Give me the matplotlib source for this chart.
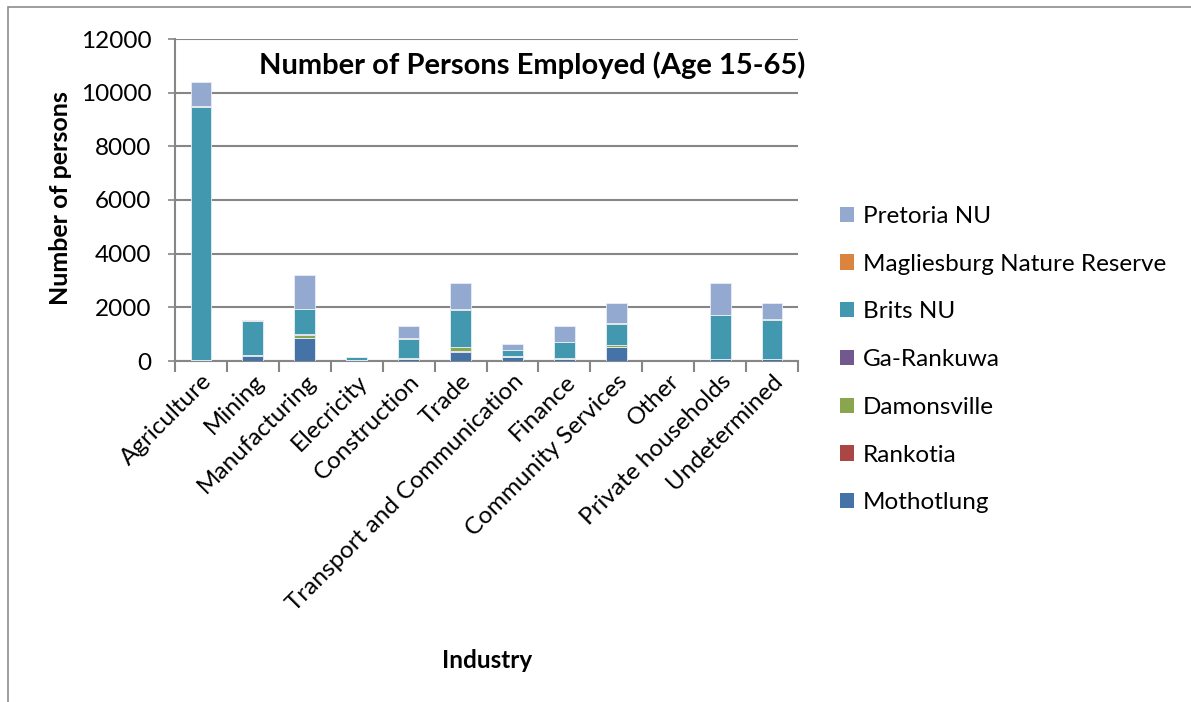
import matplotlib.pyplot as plt
from matplotlib.patches import Rectangle, Patch
import numpy as np

plt.rcParams['font.family'] = ['Lato', 'DejaVu Sans']

industries = ['Agriculture', 'Mining', 'Manufacturing', 'Elecricity', 'Construction', 'Trade',
              'Transport and Communication', 'Finance', 'Community Services', 'Other',
              'Private households', 'Undetermined']

mothotlung  = [30, 200, 850, 20, 60, 340, 150, 60, 520, 0, 70, 70]
rankotia    = [5, 10, 20, 0, 5, 20, 5, 5, 10, 0, 5, 5]
damonsville = [10, 20, 110, 5, 40, 150, 20, 30, 60, 0, 10, 10]
ga_rankuwa  = [5, 10, 10, 0, 5, 10, 5, 5, 10, 0, 5, 5]
brits_nu    = [9430, 1260, 940, 120, 725, 1380, 220, 610, 790, 0, 1610, 1450]
magliesburg = [30, 15, 10, 0, 5, 40, 5, 10, 20, 0, 30, 30]
pretoria_nu = [890, 30, 1260, 5, 470, 950, 220, 590, 735, 0, 1160, 600]

series = [
    ('Mothotlung', mothotlung, '#4572A7'),
    ('Rankotia', rankotia, '#AA4643'),
    ('Damonsville', damonsville, '#89A54E'),
    ('Ga-Rankuwa', ga_rankuwa, '#71588F'),
    ('Brits NU', brits_nu, '#4198AF'),
    ('Magliesburg Nature Reserve', magliesburg, '#DB843D'),
    ('Pretoria NU', pretoria_nu, '#93A9CF'),
]

fig = plt.figure(figsize=(11.91, 7.02), dpi=100)
ax = fig.add_axes([175 / 1191, 1 - 361 / 702, 623 / 1191, 322 / 702])

x = np.arange(len(industries))
bottom = np.zeros(len(industries))
handles = []
for name, vals, col in series:
    vals = np.array(vals, dtype=float)
    ax.bar(x, vals, 0.4, bottom=bottom, color=col, edgecolor='#e8eef5', linewidth=0.6, zorder=3)
    bottom += vals
    handles.append(Patch(facecolor=col, label=name))

ax.set_xlim(-0.5, len(industries) - 0.5)
ax.set_ylim(0, 12000)
ax.set_yticks(range(0, 12001, 2000))
ax.yaxis.grid(True, color='#868686', linewidth=1.5, zorder=0)
ax.tick_params(axis='y', labelsize=17.5, length=5, color='#868686', width=1.2, pad=12)

ax.set_xticks(x)
ax.set_xticklabels(industries, rotation=45, ha='right', rotation_mode='anchor', fontsize=17.5)
ax.tick_params(axis='x', which='major', length=0, pad=7)
ax.set_xticks(np.arange(-0.5, len(industries), 1), minor=True)
ax.tick_params(axis='x', which='minor', length=8, color='#868686', width=1.5)

for s in ['top', 'right']:
    ax.spines[s].set_visible(False)
for s in ['left', 'bottom']:
    ax.spines[s].set_color('#868686')
    ax.spines[s].set_linewidth(1.5)

ax.text(0.573, 0.92, 'Number of Persons Employed (Age 15-65)', transform=ax.transAxes,
        ha='center', va='center', fontsize=21, fontweight='bold')
fig.text(60 / 1191, 1 - 198 / 702, 'Number of persons', rotation=90, ha='center', va='center',
         fontsize=18, fontweight='bold')
fig.text(487 / 1191, 1 - 660 / 702, 'Industry', ha='center', va='center',
         fontsize=17.5, fontweight='bold')

fig.legend(handles=handles[::-1], loc='upper left', bbox_to_anchor=(818 / 1191, 1 - 184 / 702),
           frameon=False, fontsize=17.5, labelspacing=1.1, handlelength=0.6, handleheight=0.6,
           handletextpad=0.35)

fig.patches.append(Rectangle((8 / 1191, -0.01), 1.0, 1 - 7 / 702 + 0.01, transform=fig.transFigure,
                             fill=False, edgecolor='#8c8c8c', linewidth=1.2))

fig.savefig('out.png', dpi=100)
